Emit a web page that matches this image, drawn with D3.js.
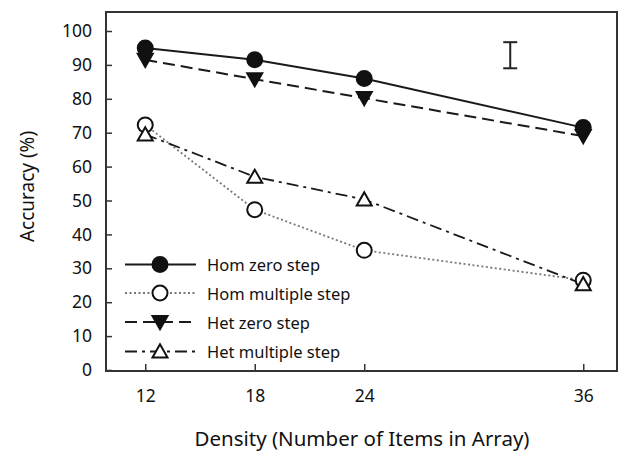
<!DOCTYPE html>
<html><head><meta charset="utf-8">
<script src="https://cdn.jsdelivr.net/npm/d3@7"></script>
<style>body{margin:0;background:#fff;}svg{display:block;font-family:"Noto Sans",sans-serif;}</style>
</head><body><svg id="c" width="621" height="453"></svg>
<script>
const densities = [12, 18, 24, 36];
const homZero = [95, 91.5, 86, 71.5];
const homMultiple = [72.3, 47.3, 35.3, 26.5];
const hetZero = [91.5, 85.8, 80.2, 69];
const hetMultiple = [69.5, 57, 50.3, 25.3];
const yTicks = [0, 10, 20, 30, 40, 50, 60, 70, 80, 90, 100];
const xTicks = [12, 18, 24, 36];
const errorBar = {x: 32.0, low: 89, high: 96.7};
const seriesNames = ["Hom zero step", "Hom multiple step", "Het zero step", "Het multiple step"];

const svg = d3.select("#c");
const L = 106, R = 617, T = 12, B = 371;
const x = d3.scaleLinear().domain([9.85, 37.85]).range([L, R]);
const y = d3.scaleLinear().domain([0, 100]).range([370, 31]);

const series = [
  {name: seriesNames[0], vals: homZero, dash: null, color: "#1a1a1a", width: 2, marker: "circle", fill: "#111"},
  {name: seriesNames[1], vals: homMultiple, dash: "2,2.5", color: "#777", width: 1.8, marker: "circle", fill: "#fff"},
  {name: seriesNames[2], vals: hetZero, dash: "12,6", color: "#1a1a1a", width: 2, marker: "tridown", fill: "#111"},
  {name: seriesNames[3], vals: hetMultiple, dash: "12,5,3,5", color: "#1a1a1a", width: 1.8, marker: "triup", fill: "#fff"}
];

// axes ticks (inward)
const gy = svg.append("g").attr("transform", `translate(${L},0)`)
  .call(d3.axisLeft(y).tickValues(yTicks).tickSize(-6).tickPadding(14));
const gx = svg.append("g").attr("transform", `translate(0,${B})`)
  .call(d3.axisBottom(x).tickValues(xTicks).tickSize(-7).tickPadding(19));
[gy, gx].forEach(g => {
  g.select(".domain").remove();
  g.selectAll(".tick line").attr("stroke", "#333").attr("stroke-width", 1.5);
  g.selectAll(".tick text").attr("font-size", 17.5).attr("fill", "#111")
    .attr("font-family", '"Noto Sans",sans-serif');
});

svg.append("rect").attr("x", L).attr("y", T).attr("width", R - L).attr("height", B - T)
  .attr("fill", "none").attr("stroke", "#333").attr("stroke-width", 2);

const line = d3.line().x((d, i) => x(densities[i])).y(d => y(d));

function marker(g, type, cx, cy, fill) {
  if (type === "circle") {
    g.append("circle").attr("cx", cx).attr("cy", cy).attr("r", 7.5)
      .attr("fill", fill).attr("stroke", "#111").attr("stroke-width", 2);
  } else {
    const s = 7.5;
    const pts = type === "tridown"
      ? [[cx - s, cy - s * 0.8], [cx + s, cy - s * 0.8], [cx, cy + s * 0.95]]
      : [[cx - s, cy + s * 0.8], [cx + s, cy + s * 0.8], [cx, cy - s * 0.95]];
    g.append("polygon").attr("points", pts.map(p => p.join(",")).join(" "))
      .attr("fill", fill).attr("stroke", "#111").attr("stroke-width", 2).attr("stroke-linejoin", "miter");
  }
}

const order = [1, 3, 2, 0];
order.forEach(k => {
  const s = series[k];
  svg.append("path").attr("d", line(s.vals)).attr("fill", "none")
    .attr("stroke", s.color).attr("stroke-width", s.width)
    .attr("stroke-dasharray", s.dash);
});
order.forEach(k => {
  const s = series[k];
  const g = svg.append("g");
  s.vals.forEach((v, i) => marker(g, s.marker, x(densities[i]), y(v), s.fill));
});

// error bar
const eb = svg.append("g").attr("stroke", "#222").attr("stroke-width", 2);
const ex = x(errorBar.x);
eb.append("line").attr("x1", ex).attr("x2", ex).attr("y1", y(errorBar.high)).attr("y2", y(errorBar.low));
eb.append("line").attr("x1", ex - 7).attr("x2", ex + 7).attr("y1", y(errorBar.high)).attr("y2", y(errorBar.high));
eb.append("line").attr("x1", ex - 7).attr("x2", ex + 7).attr("y1", y(errorBar.low)).attr("y2", y(errorBar.low));

// legend
const legY = [264.5, 293, 322, 351.5];
series.forEach((s, i) => {
  const g = svg.append("g");
  g.append("line").attr("x1", 125).attr("x2", 196).attr("y1", legY[i]).attr("y2", legY[i])
    .attr("stroke", s.color).attr("stroke-width", s.width).attr("stroke-dasharray", s.dash);
  marker(g, s.marker, 160, legY[i], s.fill);
  g.append("text").attr("x", 207).attr("y", legY[i]).attr("dy", "0.4em")
    .attr("font-size", 16.5).attr("fill", "#111").text(s.name);
});

// axis titles
svg.append("text").attr("transform", `translate(27,${(T + B) / 2 - 5}) rotate(-90)`)
  .attr("text-anchor", "middle").attr("dy", "0.35em").attr("font-size", 19).attr("fill", "#111")
  .text("Accuracy (%)");
svg.append("text").attr("x", 362).attr("y", 446).attr("text-anchor", "middle")
  .attr("font-size", 20.5).attr("fill", "#111").text("Density (Number of Items in Array)");
</script></body></html>
